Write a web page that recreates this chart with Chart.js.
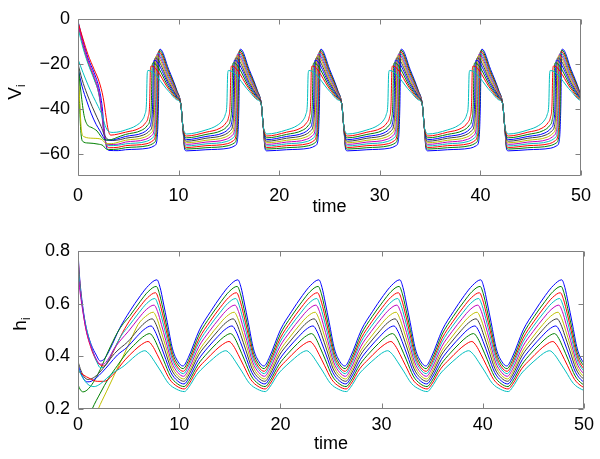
<!DOCTYPE html>
<html><head><meta charset="utf-8">
<script src="https://cdn.jsdelivr.net/npm/chart.js@4.4.1/dist/chart.umd.min.js"></script>
<style>
html,body{margin:0;padding:0;background:#fff;}
#wrap{position:relative;width:600px;height:459px;overflow:hidden;font-family:"Liberation Sans",Arial,sans-serif;}
canvas{position:absolute;left:0;}
#c1{top:0;} #c2{top:232px;}
.ylab{position:absolute;font-size:19px;color:#000;white-space:nowrap;line-height:1;transform:translate(-50%,-50%) rotate(-90deg);}
.ylab sub{font-size:12px;}
#lv{left:16px;top:92px;}
#lh{left:21px;top:324px;}
</style></head>
<body><div id="wrap">
<canvas id="c1" width="600" height="232"></canvas>
<canvas id="c2" width="600" height="227"></canvas>
<div class="ylab" id="lv">V<sub>i</sub></div>
<div class="ylab" id="lh">h<sub>i</sub></div>
</div>
<script>
// ---------- data ----------
const xTicks = [0, 10, 20, 30, 40, 50];
const vTicks = [-60, -40, -20, 0];
const hTicks = [0.2, 0.4, 0.6, 0.8];
// times at which each steady cycle starts (start of the fast drop of V)
const cycleStarts = [2.22, 10.22, 18.22, 26.22, 34.22, 42.22, 50.22];

// transient part of V_i, [time, V]
const vInit = [
  [[0,-1],[0.5,-10],[1.0,-17.5],[1.6,-24],[2.1,-31],[2.4,-39],[2.6,-49],[2.8,-56.5],[3.05,-58.6],[4.0,-58.7]],
  [[0,-14],[0.1,-30],[0.25,-48],[0.45,-54.5],[1.0,-55.3],[2.0,-55.8],[2.5,-56.5],[2.75,-57.8],[3.1,-58.2],[4.0,-58.0]],
  [[0,-2.5],[0.5,-12],[1.0,-19.5],[1.6,-26.5],[2.1,-34],[2.4,-43],[2.6,-51],[2.85,-56.5],[3.1,-57.4],[4.0,-57.2]],
  [[0,-4],[0.5,-13],[1.0,-20],[1.6,-27],[2.05,-33],[2.35,-42],[2.55,-50],[2.75,-55],[3.0,-56.5],[4.0,-56.3]],
  [[0,-2],[0.5,-11],[1.0,-18.5],[1.6,-25.5],[2.1,-33],[2.35,-41],[2.55,-50],[2.75,-55],[3.0,-56],[4.0,-55.8]],
  [[0,-20],[0.15,-35],[0.35,-50],[0.6,-52.5],[1.5,-53.2],[2.3,-53.6],[2.55,-54.5],[2.8,-55.6],[3.3,-55.6],[4.2,-54.7]],
  [[0,-20],[0.4,-27],[0.9,-33.5],[1.4,-39],[1.9,-44],[2.3,-48],[2.6,-51.5],[2.9,-53.5],[3.4,-54.2],[4.2,-53.8]],
  [[0,-22],[0.4,-30],[0.9,-37],[1.3,-42],[1.8,-47],[2.2,-50],[2.5,-52.5],[2.8,-54],[3.3,-54],[4.2,-53.1]],
  [[0,-20],[0.3,-33],[0.6,-43],[0.9,-47],[1.4,-48.5],[1.9,-50],[2.3,-52.5],[2.6,-53.8],[3.0,-54],[4.2,-52.3]],
  [[0,-1.5],[0.5,-9],[1.0,-16],[1.6,-22.5],[2.1,-28],[2.5,-35],[2.8,-44],[3.0,-49.5],[3.25,-51.8],[4.0,-51.3]],
  [[0,-18],[0.5,-24],[1.0,-29.5],[1.5,-34.5],[2.0,-39],[2.4,-43],[2.7,-47.5],[3.0,-50],[3.5,-50.6],[4.2,-50.2]]
];
// one steady cycle of V_i, [time after cycle start, V]
const vCycle = [
  [[0,-38],[0.2,-48],[0.38,-58.0],[0.55,-58.8],[2.5,-58.3],[4.78,-57.6],[5.38,-56.5],[5.63,-54.0],[5.78,-38],[5.86,-15.0],[5.94,-13.5],[6.8,-22.6],[7.6,-31.8]],
  [[0,-38],[0.2,-48],[0.38,-57.2],[0.55,-58.0],[2.5,-57.4],[4.71,-56.5],[5.31,-55.3],[5.56,-52.8],[5.71,-38],[5.79,-15.5],[5.87,-14.0],[6.8,-23.6],[7.6,-32.2]],
  [[0,-38],[0.2,-48],[0.38,-56.5],[0.55,-57.3],[2.5,-56.5],[4.64,-55.6],[5.24,-54.2],[5.49,-51.7],[5.64,-38],[5.72,-16.1],[5.80,-14.6],[6.8,-24.5],[7.6,-32.7]],
  [[0,-38],[0.2,-48],[0.38,-55.8],[0.55,-56.6],[2.5,-55.7],[4.57,-54.6],[5.17,-53.1],[5.42,-50.6],[5.57,-38],[5.65,-16.7],[5.73,-15.2],[6.8,-25.5],[7.6,-33.1]],
  [[0,-38],[0.2,-48],[0.38,-55.1],[0.55,-55.9],[2.5,-54.9],[4.49,-53.7],[5.09,-52.0],[5.34,-49.5],[5.49,-38],[5.57,-17.3],[5.65,-15.8],[6.8,-26.5],[7.6,-33.5]],
  [[0,-38],[0.2,-48],[0.38,-54.4],[0.55,-55.2],[2.5,-54.1],[4.41,-52.7],[5.01,-50.9],[5.26,-48.4],[5.41,-38],[5.49,-18.0],[5.57,-16.5],[6.8,-27.4],[7.6,-34.0]],
  [[0,-38],[0.2,-48],[0.38,-53.7],[0.55,-54.5],[2.5,-53.2],[4.31,-51.7],[4.91,-49.8],[5.16,-47.3],[5.31,-38],[5.39,-18.9],[5.47,-17.4],[6.8,-28.4],[7.6,-34.4]],
  [[0,-38],[0.2,-48],[0.38,-53.0],[0.55,-53.8],[2.5,-52.4],[4.20,-50.8],[4.80,-48.7],[5.05,-46.2],[5.20,-38],[5.28,-19.9],[5.36,-18.4],[6.8,-29.4],[7.6,-34.8]],
  [[0,-38],[0.2,-48],[0.38,-52.2],[0.55,-53.0],[2.5,-51.5],[4.07,-49.7],[4.67,-47.5],[4.92,-45.0],[5.07,-38],[5.15,-21.1],[5.23,-19.6],[6.8,-30.4],[7.6,-35.2]],
  [[0,-38],[0.2,-48],[0.38,-51.4],[0.55,-52.2],[2.5,-50.5],[3.90,-48.7],[4.50,-46.3],[4.75,-43.8],[4.90,-38],[4.98,-22.5],[5.06,-21.0],[6.8,-31.3],[7.6,-35.7]],
  [[0,-38],[0.2,-48],[0.38,-50.5],[0.55,-51.3],[2.5,-49.5],[3.58,-47.5],[4.18,-45.0],[4.43,-42.5],[4.58,-38],[4.66,-24.5],[4.74,-23.0],[6.8,-32.3],[7.6,-36.1]]
];
// transient part of h_i, [time, h]
const hInit = [
  [[0,.80],[0.1,.73],[0.25,.66],[0.5,.58],[0.8,.51],[1.3,.445],[1.8,.405],[2.2,.382],[2.6,.39],[3.2,.43],[4.1,.505]],
  [[0,.292],[0.25,.272],[0.5,.265],[0.9,.272],[1.5,.30],[2.2,.35],[3.0,.42],[3.9,.49],[4.5,.525]],
  [[0,.79],[0.1,.72],[0.25,.65],[0.5,.57],[0.8,.50],[1.3,.43],[1.8,.385],[2.2,.367],[2.5,.363],[2.9,.375],[3.4,.41],[4.2,.475]],
  [[0,.77],[0.12,.70],[0.3,.63],[0.6,.55],[1.0,.48],[1.5,.415],[1.9,.375],[2.2,.357],[2.5,.358],[3.0,.385],[3.6,.43],[4.3,.48]],
  [[0,.72],[0.15,.66],[0.4,.59],[0.8,.50],[1.3,.435],[1.8,.39],[2.2,.37],[2.5,.37],[3.0,.39],[3.6,.43],[4.3,.465]],
  [[0,0.0],[0.8,.08],[1.5,.15],[2.0,.2],[2.8,.265],[3.6,.33],[4.4,.395],[5.2,.46]],
  [[0,.38],[0.3,.345],[0.6,.322],[1.0,.312],[1.5,.318],[2.1,.337],[2.8,.37],[3.6,.41],[4.3,.435]],
  [[0,.365],[0.3,.335],[0.6,.312],[0.9,.303],[1.3,.305],[1.8,.318],[2.4,.34],[3.1,.37],[3.9,.405]],
  [[0,.05],[0.7,.13],[1.4,.2],[2.2,.26],[3.0,.315],[3.9,.365]],
  [[0,.345],[0.5,.33],[1.2,.315],[1.9,.305],[2.6,.305],[3.2,.32],[3.9,.35],[4.4,.375]],
  [[0,.355],[0.3,.33],[0.7,.305],[1.1,.29],[1.6,.285],[2.2,.295],[2.8,.315],[3.5,.338],[4.1,.352]]
];
// one steady cycle of h_i, [time after cycle start, h]
const hCycle = [
  [[0.15,.363],[0.69,.396],[1.78,.500],[2.87,.569],[3.95,.630],[4.77,.669],[5.58,.690],[5.89,.661],[6.22,.602],[6.61,.527],[7.12,.428],[7.64,.381]],
  [[0.165,.353],[0.70,.384],[1.77,.484],[2.84,.550],[3.91,.607],[4.71,.645],[5.51,.665],[5.83,.637],[6.17,.581],[6.57,.509],[7.10,.415],[7.63,.370]],
  [[0.18,.343],[0.71,.373],[1.76,.468],[2.81,.531],[3.86,.586],[4.65,.622],[5.44,.641],[5.77,.614],[6.13,.561],[6.54,.492],[7.08,.403],[7.63,.359]],
  [[0.195,.334],[0.71,.363],[1.75,.454],[2.78,.514],[3.82,.566],[4.59,.601],[5.37,.619],[5.71,.593],[6.08,.542],[6.50,.477],[7.07,.391],[7.63,.350]],
  [[0.21,.324],[0.72,.351],[1.73,.437],[2.75,.494],[3.77,.544],[4.53,.577],[5.29,.594],[5.64,.570],[6.02,.521],[6.46,.459],[7.04,.378],[7.63,.339]],
  [[0.225,.314],[0.72,.339],[1.72,.420],[2.72,.473],[3.71,.520],[4.46,.551],[5.21,.567],[5.57,.544],[5.96,.499],[6.42,.441],[7.02,.365],[7.62,.328]],
  [[0.24,.305],[0.73,.329],[1.70,.405],[2.68,.454],[3.65,.498],[4.38,.527],[5.11,.542],[5.49,.521],[5.89,.478],[6.36,.424],[6.99,.352],[7.61,.318]],
  [[0.255,.295],[0.73,.317],[1.68,.387],[2.63,.434],[3.58,.474],[4.29,.501],[5.00,.515],[5.39,.495],[5.81,.456],[6.30,.405],[6.95,.339],[7.60,.307]],
  [[0.27,.285],[0.73,.305],[1.65,.369],[2.57,.412],[3.49,.449],[4.18,.473],[4.87,.486],[5.28,.468],[5.72,.432],[6.23,.386],[6.91,.325],[7.59,.296]],
  [[0.285,.276],[0.73,.294],[1.61,.352],[2.49,.389],[3.38,.423],[4.04,.444],[4.70,.456],[5.13,.440],[5.60,.407],[6.13,.366],[6.85,.312],[7.57,.286]],
  [[0.30,.266],[0.71,.282],[1.52,.331],[2.34,.364],[3.16,.392],[3.77,.411],[4.38,.421],[4.85,.407],[5.36,.379],[5.95,.344],[6.73,.297],[7.52,.275]]
];

// ---------- styling ----------
const colors = ['#0000ff','#008000','#ff0000','#00bfbf','#bf00bf','#bfbf00','#404040','#0000ff','#008000','#ff0000','#00bfbf'];
const FONT = '"Liberation Sans", Arial, sans-serif';
const FS = 18;

function buildSeries(init, cycle) {
  const pts = init.map(p => ({x: p[0], y: p[1]}));
  const last = init[init.length - 1][0];
  cycleStarts.forEach(d => cycle.forEach(p => {
    const t = d + p[0];
    if (t > last + 0.3) pts.push({x: t, y: p[1]});
  }));
  return pts;
}
function makeSets(init, cycle) {
  return colors.map((c, i) => ({
    data: buildSeries(init[i], cycle[i]),
    borderColor: c, borderWidth: 1, pointRadius: 0,
    cubicInterpolationMode: 'monotone', order: -i, fill: false
  }));
}

const frame = {
  id: 'frame',
  afterDatasetsDraw(chart) {
    const {ctx, chartArea: a, scales: {x, y}} = chart;
    const L = Math.round(a.left) + 0.5, R = Math.round(a.right) - 0.5;
    const T = Math.round(a.top) + 0.5, B = Math.round(a.bottom) - 0.5;
    ctx.save();
    ctx.strokeStyle = '#808080'; ctx.lineWidth = 1;
    ctx.beginPath();
    ctx.rect(L, T, R - L, B - T);
    x.ticks.forEach(t => {
      const p = Math.round(x.getPixelForValue(t.value)) + 0.5;
      ctx.moveTo(p, B); ctx.lineTo(p, B - 5);
      ctx.moveTo(p, T); ctx.lineTo(p, T + 5);
    });
    y.ticks.forEach(t => {
      const p = Math.round(y.getPixelForValue(t.value)) + 0.5;
      ctx.moveTo(L, p); ctx.lineTo(L + 5, p);
      ctx.moveTo(R, p); ctx.lineTo(R - 5, p);
    });
    ctx.stroke();
    ctx.restore();
  }
};

function makeChart(id, datasets, yMin, yMax, yTickVals, fmt, xh, padBottom, xPad) {
  return new Chart(document.getElementById(id), {
    type: 'line',
    data: {datasets},
    options: {
      responsive: false, animation: false, events: [],
      layout: {padding: {left: 0, right: 16, top: 15, bottom: padBottom}},
      plugins: {legend: {display: false}, tooltip: {enabled: false}},
      scales: {
        x: {
          type: 'linear', min: 0, max: 50,
          afterBuildTicks: s => { s.ticks = xTicks.map(v => ({value: v})); },
          afterFit: s => { s.height = xh; },
          grid: {display: false, drawTicks: false}, border: {display: false},
          ticks: {color: '#000', font: {family: FONT, size: FS}, padding: xPad, maxRotation: 0, autoSkip: false},
          title: {display: true, text: 'time', color: '#000', font: {family: FONT, size: FS}, padding: {top: 0, bottom: 0}}
        },
        y: {
          type: 'linear', min: yMin, max: yMax,
          afterBuildTicks: s => { s.ticks = yTickVals.map(v => ({value: v})); },
          afterFit: s => { s.width = 78; },
          grid: {display: false, drawTicks: false}, border: {display: false},
          ticks: {color: '#000', font: {family: FONT, size: FS}, padding: 8, autoSkip: false, callback: fmt}
        }
      }
    },
    plugins: [frame]
  });
}

makeChart('c1', makeSets(vInit, vCycle), -70, 0, vTicks,
  v => v < 0 ? '\u2212' + Math.abs(v) : String(v), 42, 14, 9);
makeChart('c2', makeSets(hInit, hCycle), 0.2, 0.8, hTicks,
  v => Number(v).toFixed(1), 46, 4, 5);
</script></body></html>
